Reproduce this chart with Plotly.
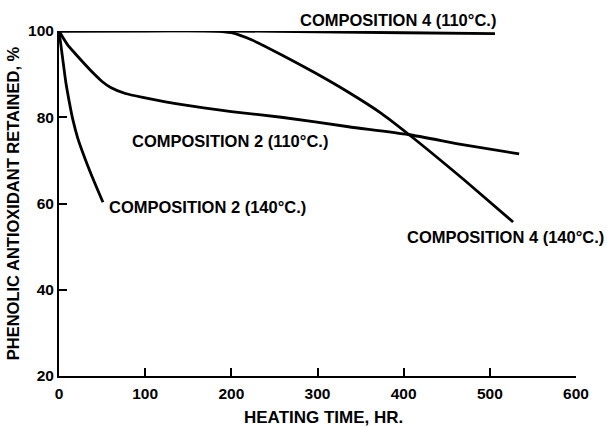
import plotly.graph_objects as go

# Data
c4_110_x = [0, 100, 200, 300, 400, 506]
c4_110_y = [100, 100, 100, 99.8, 99.6, 99.4]

c4_140_x = [0, 180, 200, 224, 258, 297, 335, 374, 406, 440, 470, 527]
c4_140_y = [100, 100, 99.6, 97.9, 94.5, 90.3, 85.9, 80.9, 76.0, 70.5, 65.5, 55.7]

c2_110_x = [0, 10, 20, 30, 40, 50, 60, 77, 100, 143, 200, 258, 336, 405, 470, 534]
c2_110_y = [100, 96.8, 94.5, 92.3, 90.2, 88.3, 86.9, 85.5, 84.5, 82.9, 81.3, 80.0, 77.8, 76.0, 73.6, 71.5]

c2_140_x = [0, 4, 8, 12, 16, 22, 31, 41, 51]
c2_140_y = [100, 94, 88, 83.5, 79.5, 75, 70, 65, 60.3]

x_ticks = [0, 100, 200, 300, 400, 500, 600]
y_ticks = [20, 40, 60, 80, 100]

labels = ["COMPOSITION 4 (110°C.)", "COMPOSITION 2 (110°C.)",
          "COMPOSITION 2 (140°C.)", "COMPOSITION 4 (140°C.)"]
label_x = [393, 199, 172, 518]
label_y = [102.6, 74.4, 59.1, 52.3]

x_title = "HEATING TIME, HR."
y_title = "PHENOLIC ANTIOXIDANT RETAINED, %"

Y0, Y1 = 20, 100
FONT = "Liberation Sans, Arial"

fig = go.Figure()
for xs, ys in [(c4_110_x, c4_110_y), (c4_140_x, c4_140_y),
               (c2_110_x, c2_110_y), (c2_140_x, c2_140_y)]:
    fig.add_trace(go.Scatter(x=xs, y=ys, mode="lines",
                             line=dict(color="black", width=2.8, shape="spline", smoothing=0.6),
                             showlegend=False, cliponaxis=False))

for t, lx, ly in zip(labels, label_x, label_y):
    fig.add_annotation(x=lx, xref="x", y=(ly - Y0) / (Y1 - Y0), yref="paper",
                       text=t, showarrow=False,
                       font=dict(family=FONT, size=16.5, color="black", weight="bold"),
                       xanchor="center", yanchor="middle")

# x-axis title placed slightly right of centre as in the reference
fig.add_annotation(x=307, xref="x", y=-0.12, yref="paper", yanchor="middle",
                   text=x_title, showarrow=False,
                   font=dict(family=FONT, size=17, color="black", weight="bold"))

fig.update_layout(
    width=607, height=427,
    margin=dict(l=56, r=31, t=31, b=51),
    paper_bgcolor="white", plot_bgcolor="white",
    font=dict(family=FONT, size=15, color="black"),
    xaxis=dict(range=[0, 600], tickvals=x_ticks, ticks="inside", ticklen=8,
               tickwidth=1.5, tickcolor="black", showline=True, linecolor="black",
               linewidth=2, showgrid=False, zeroline=False, ticklabelstandoff=2,
               tickfont=dict(family=FONT, size=15.5, weight="bold")),
    yaxis=dict(range=[Y0, Y1], tickvals=y_ticks, ticks="inside", ticklen=8,
               tickwidth=1.5, tickcolor="black", showline=True, linecolor="black",
               linewidth=2, showgrid=False, zeroline=False,
               tickfont=dict(family=FONT, size=15.5, weight="bold"),
               title=dict(text=y_title, standoff=4,
                          font=dict(family=FONT, size=16.5, weight="bold"))),
)

fig.write_html("out.html")
